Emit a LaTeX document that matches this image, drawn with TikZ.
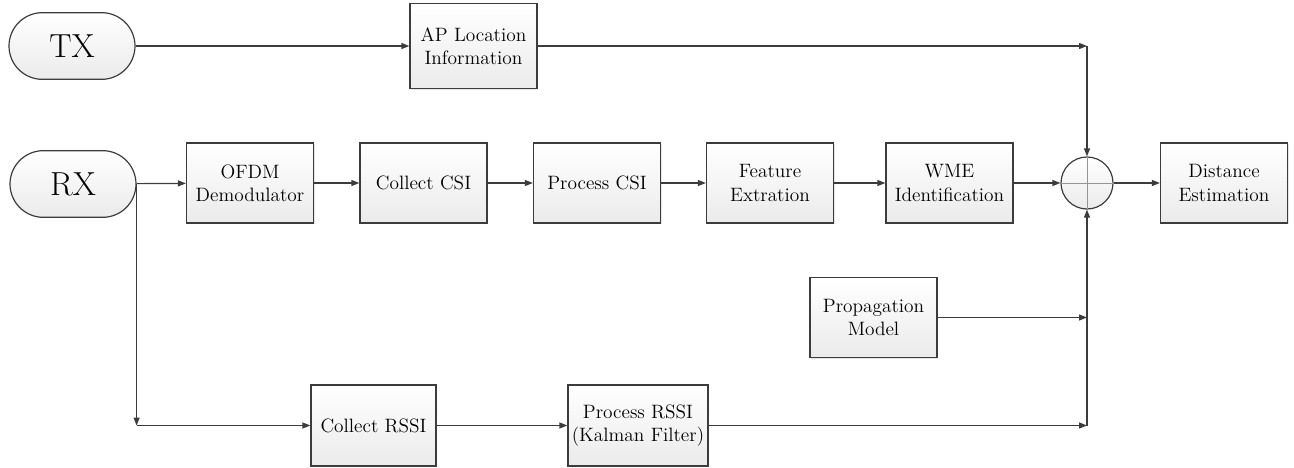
\documentclass[tikz,border=0pt]{standalone}
\usetikzlibrary{arrows.meta,shadows}
\definecolor{linec}{HTML}{3C3C3C}
\tikzset{
  boxshape/.style={draw=linec, line width=0.9pt, top color=white, bottom color=gray!16,
    minimum width=95.25pt, minimum height=60pt, align=center, inner sep=2pt,
    font=\fontsize{14.5}{17.5}\selectfont,
    drop shadow={shadow xshift=1pt, shadow yshift=-1pt, opacity=0.2}},
  termshape/.style={draw=linec, line width=0.9pt, top color=white, bottom color=gray!16,
    minimum width=94.5pt, minimum height=50pt, rounded corners=25pt,
    font=\fontsize{25}{30}\selectfont},
  sumshape/.style={circle, draw=linec, line width=0.9pt, top color=white, bottom color=gray!16,
    minimum size=39pt, inner sep=0pt},
  arr/.style={draw=linec, line width=0.9pt, -{Triangle[length=6pt,width=4.5pt]}},
}
\begin{document}
\begin{tikzpicture}[x=0.75pt,y=-0.75pt]
\useasboundingbox (0,0) rectangle (1294,467);
\node[termshape] (TX) at (72,46) {TX};
\node[termshape] (RX) at (73,184) {RX};
\node[boxshape, minimum height=63.75pt] (AP) at (473.5,46) {AP Location\\Information};
\node[boxshape] (OFDM) at (250,183) {OFDM\\Demodulator};
\node[boxshape] (CCSI) at (423.5,183) {Collect CSI};
\node[boxshape] (PCSI) at (597,183) {Process CSI};
\node[boxshape] (FE) at (770,183) {Feature\\Extration};
\node[boxshape] (WME) at (949.5,183) {WME\\Identification};
\node[sumshape] (sum) at (1087,183) {};
\draw[linec!55, line width=0.7pt] (sum.north) -- (sum.south) (sum.west) -- (sum.east);
\node[boxshape] (DE) at (1224,183) {Distance\\Estimation};
\node[boxshape] (PM) at (873.5,317.5) {Propagation\\Model};
\node[boxshape, minimum width=93.75pt, minimum height=60.75pt] (CR) at (373.5,425.5) {Collect RSSI};
\node[boxshape, minimum width=105pt, minimum height=60.75pt] (PR) at (638,425.5) {Process RSSI\\(Kalman Filter)};
\coordinate (c1) at (sum.north |- AP.east);
\coordinate (c2) at (sum.south |- PM.east);
\coordinate (c3) at (sum.south |- PR.east);
\coordinate (c4) at (RX.east |- CR.west);
\draw[arr] (TX) -- (AP);
\draw[arr] (AP) -- (c1);
\draw[arr] (c1) -- (sum);
\draw[arr] (RX) -- (OFDM);
\draw[arr] (OFDM) -- (CCSI);
\draw[arr] (CCSI) -- (PCSI);
\draw[arr] (PCSI) -- (FE);
\draw[arr] (FE) -- (WME);
\draw[arr] (WME) -- (sum);
\draw[arr] (sum) -- (DE);
\draw[arr] (RX.east) -- (c4);
\draw[arr] (c4) -- (CR);
\draw[arr] (CR) -- (PR);
\draw[arr] (PR) -- (c3);
\draw[arr] (c3) -- (sum);
\draw[arr] (PM) -- (c2);
\end{tikzpicture}
\end{document}
